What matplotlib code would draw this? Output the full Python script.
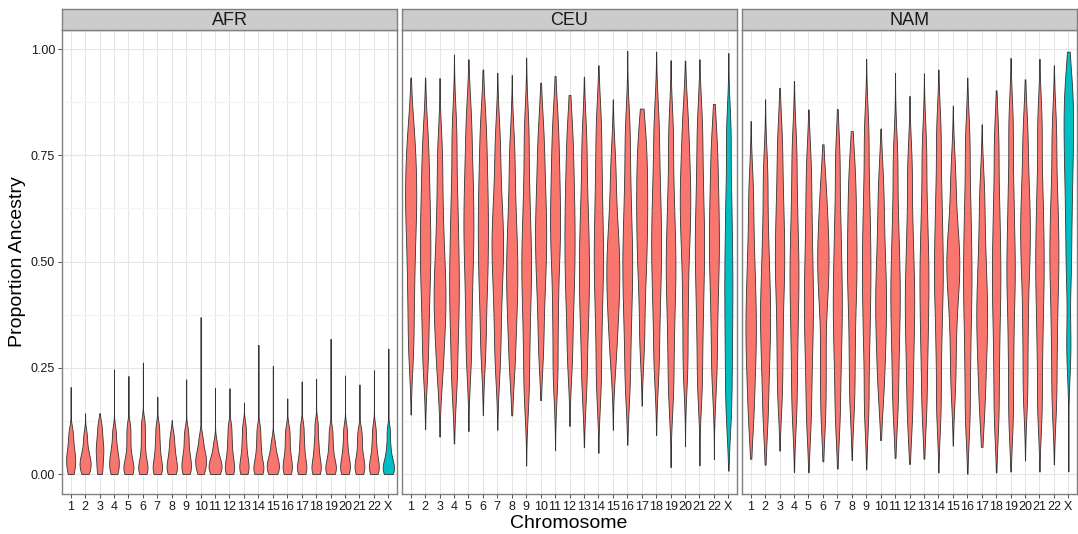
import numpy as np
import matplotlib.pyplot as plt

plt.rcParams['font.family'] = ['Liberation Sans', 'DejaVu Sans']

chroms = [str(i) for i in range(1, 23)] + ['X']
pops = ['AFR', 'CEU', 'NAM']

# range of each violin (min, max) and a few representative values for its body
afr_lo = [0.0] * 23
afr_hi = [0.205, 0.143, 0.143, 0.246, 0.231, 0.262, 0.182, 0.127, 0.223, 0.369, 0.203, 0.202,
          0.168, 0.304, 0.254, 0.178, 0.218, 0.224, 0.318, 0.232, 0.211, 0.244, 0.295]
afr_body = [
    [0.0, 0.015, 0.03, 0.04, 0.055, 0.075, 0.1],
    [0.0, 0.012, 0.022, 0.03, 0.042, 0.06, 0.09],
    [0.0, 0.02, 0.04, 0.055, 0.07, 0.09, 0.115],
    [0.0, 0.012, 0.025, 0.035, 0.05, 0.07, 0.1],
    [0.0, 0.008, 0.018, 0.03, 0.05, 0.08, 0.11],
    [0.0, 0.01, 0.02, 0.035, 0.06, 0.09, 0.12],
    [0.0, 0.01, 0.02, 0.035, 0.055, 0.08, 0.11],
    [0.0, 0.008, 0.018, 0.03, 0.045, 0.065, 0.09],
    [0.0, 0.01, 0.022, 0.035, 0.05, 0.075, 0.1],
    [0.0, 0.015, 0.025, 0.035, 0.045, 0.06, 0.085],
    [0.0, 0.008, 0.015, 0.022, 0.032, 0.045, 0.07],
    [0.0, 0.01, 0.02, 0.035, 0.055, 0.08, 0.11],
    [0.0, 0.01, 0.022, 0.035, 0.055, 0.08, 0.11],
    [0.0, 0.008, 0.018, 0.03, 0.05, 0.075, 0.105],
    [0.0, 0.008, 0.016, 0.025, 0.035, 0.05, 0.075],
    [0.0, 0.01, 0.022, 0.035, 0.055, 0.08, 0.105],
    [0.0, 0.01, 0.02, 0.035, 0.055, 0.08, 0.11],
    [0.0, 0.01, 0.02, 0.035, 0.055, 0.08, 0.115],
    [0.0, 0.008, 0.016, 0.028, 0.045, 0.07, 0.1],
    [0.0, 0.01, 0.02, 0.033, 0.05, 0.075, 0.105],
    [0.0, 0.01, 0.02, 0.033, 0.05, 0.075, 0.1],
    [0.0, 0.01, 0.02, 0.033, 0.05, 0.075, 0.105],
    [0.0, 0.008, 0.015, 0.025, 0.04, 0.065, 0.1],
]

ceu_lo = [0.140, 0.106, 0.088, 0.072, 0.101, 0.139, 0.104, 0.138, 0.020, 0.174, 0.056, 0.113,
          0.063, 0.050, 0.104, 0.069, 0.161, 0.092, 0.016, 0.065, 0.020, 0.035, 0.008]
ceu_hi = [0.933, 0.933, 0.932, 0.987, 0.976, 0.952, 0.944, 0.939, 0.980, 0.921, 0.937, 0.892,
          0.935, 0.962, 0.882, 0.996, 0.860, 0.994, 0.974, 0.973, 0.976, 0.871, 0.991]
ceu_body = [
    [0.30, 0.42, 0.52, 0.60, 0.66, 0.72, 0.80],
    [0.27, 0.38, 0.47, 0.53, 0.60, 0.68, 0.78],
    [0.25, 0.34, 0.40, 0.45, 0.52, 0.62, 0.75],
    [0.22, 0.33, 0.41, 0.48, 0.56, 0.66, 0.80],
    [0.28, 0.40, 0.50, 0.57, 0.64, 0.72, 0.83],
    [0.30, 0.42, 0.50, 0.57, 0.64, 0.72, 0.82],
    [0.27, 0.38, 0.47, 0.53, 0.58, 0.66, 0.78],
    [0.26, 0.36, 0.43, 0.49, 0.55, 0.64, 0.76],
    [0.20, 0.32, 0.42, 0.49, 0.56, 0.66, 0.80],
    [0.30, 0.42, 0.50, 0.56, 0.62, 0.70, 0.80],
    [0.24, 0.38, 0.50, 0.57, 0.64, 0.72, 0.82],
    [0.28, 0.40, 0.48, 0.55, 0.62, 0.70, 0.80],
    [0.22, 0.34, 0.42, 0.49, 0.56, 0.65, 0.78],
    [0.22, 0.35, 0.45, 0.52, 0.60, 0.70, 0.82],
    [0.28, 0.37, 0.43, 0.48, 0.53, 0.60, 0.72],
    [0.22, 0.34, 0.43, 0.50, 0.57, 0.67, 0.80],
    [0.32, 0.45, 0.53, 0.60, 0.66, 0.73, 0.80],
    [0.26, 0.38, 0.47, 0.54, 0.61, 0.70, 0.82],
    [0.20, 0.32, 0.42, 0.49, 0.56, 0.66, 0.80],
    [0.26, 0.40, 0.52, 0.60, 0.66, 0.73, 0.83],
    [0.22, 0.35, 0.45, 0.53, 0.60, 0.70, 0.82],
    [0.24, 0.36, 0.46, 0.53, 0.60, 0.68, 0.78],
    [0.15, 0.26, 0.36, 0.45, 0.54, 0.65, 0.80],
]

nam_lo = [0.036, 0.022, 0.055, 0.005, 0.004, 0.030, 0.013, 0.033, 0.011, 0.080, 0.038, 0.024,
          0.036, 0.004, 0.067, 0.001, 0.064, 0.004, 0.006, 0.032, 0.006, 0.023, 0.006]
nam_hi = [0.831, 0.882, 0.909, 0.925, 0.858, 0.776, 0.859, 0.807, 0.977, 0.813, 0.944, 0.890,
          0.943, 0.952, 0.867, 0.933, 0.823, 0.903, 0.979, 0.929, 0.977, 0.962, 0.994]
nam_body = [
    [0.14, 0.24, 0.31, 0.37, 0.44, 0.53, 0.66],
    [0.14, 0.25, 0.33, 0.39, 0.46, 0.56, 0.70],
    [0.20, 0.32, 0.43, 0.50, 0.57, 0.66, 0.78],
    [0.16, 0.28, 0.38, 0.46, 0.53, 0.63, 0.76],
    [0.14, 0.26, 0.35, 0.42, 0.50, 0.60, 0.72],
    [0.15, 0.27, 0.40, 0.47, 0.52, 0.58, 0.67],
    [0.14, 0.26, 0.35, 0.42, 0.50, 0.60, 0.74],
    [0.18, 0.30, 0.41, 0.48, 0.55, 0.63, 0.72],
    [0.16, 0.30, 0.40, 0.48, 0.56, 0.66, 0.80],
    [0.20, 0.29, 0.36, 0.42, 0.48, 0.57, 0.68],
    [0.16, 0.27, 0.36, 0.43, 0.50, 0.60, 0.74],
    [0.14, 0.25, 0.34, 0.41, 0.48, 0.58, 0.72],
    [0.16, 0.28, 0.37, 0.45, 0.52, 0.62, 0.76],
    [0.16, 0.30, 0.41, 0.48, 0.56, 0.66, 0.80],
    [0.22, 0.34, 0.44, 0.48, 0.52, 0.58, 0.70],
    [0.14, 0.27, 0.38, 0.46, 0.54, 0.64, 0.78],
    [0.16, 0.26, 0.33, 0.39, 0.45, 0.54, 0.66],
    [0.14, 0.27, 0.38, 0.46, 0.54, 0.64, 0.78],
    [0.14, 0.28, 0.40, 0.48, 0.56, 0.67, 0.82],
    [0.20, 0.34, 0.46, 0.54, 0.60, 0.68, 0.80],
    [0.16, 0.30, 0.41, 0.49, 0.57, 0.67, 0.82],
    [0.18, 0.31, 0.42, 0.50, 0.57, 0.66, 0.80],
    [0.30, 0.48, 0.60, 0.70, 0.78, 0.85, 0.92],
]

panels = {
    'AFR': (afr_lo, afr_hi, afr_body, 0.016),
    'CEU': (ceu_lo, ceu_hi, ceu_body, 0.07),
    'NAM': (nam_lo, nam_hi, nam_body, 0.07),
}

RED = '#F8766D'
TEAL = '#00BFC4'


def kde(pts, grid, bw):
    z = (grid[:, None] - np.array(pts)[None, :]) / bw
    return np.exp(-0.5 * z ** 2).sum(axis=1) / (len(pts) * bw * np.sqrt(2 * np.pi))


W, H = 1078, 534
fig = plt.figure(figsize=(W / 100, H / 100), dpi=100)

lefts = [62, 402, 742]
pw = 335
top, bottom = 30, 494
x = np.arange(1, 24)

for k, pop in enumerate(pops):
    lo, hi, body, bw = panels[pop]
    ax = fig.add_axes([lefts[k] / W, (H - bottom) / H, pw / W, (bottom - top) / H])
    ax.set_facecolor('white')

    # densities of every violin, scaled by the panel's largest density (ggplot scale = "area")
    grids, dens = [], []
    for i in range(23):
        g = np.linspace(lo[i], hi[i], 300)
        grids.append(g)
        dens.append(kde(body[i], g, bw))
    dmax = max(d.max() for d in dens)

    for i in range(23):
        half = 0.45 * dens[i] / dmax
        col = TEAL if chroms[i] == 'X' else RED
        ax.fill_betweenx(grids[i], x[i] - half, x[i] + half, facecolor=col,
                         edgecolor='#333333', linewidth=0.6, zorder=3)

    ax.set_xlim(0.4, 23.6)
    ax.set_ylim(-0.047, 1.045)
    ax.set_xticks(x)
    ax.set_xticklabels(chroms)
    ax.set_yticks([0, 0.25, 0.5, 0.75, 1.0])
    ax.set_yticks([0.125, 0.375, 0.625, 0.875], minor=True)
    ax.grid(True, which='major', color='#E5E5E5', linewidth=0.8, zorder=0)
    ax.grid(True, which='minor', axis='y', color='#F3F3F3', linewidth=0.9, zorder=0)
    ax.set_axisbelow(True)
    ax.tick_params(axis='both', which='major', length=3, width=0.6, color='#333333',
                   labelsize=9, labelcolor='#1A1A1A', pad=2)
    ax.tick_params(axis='y', which='minor', length=0)
    if k == 0:
        ax.set_yticklabels(['0.00', '0.25', '0.50', '0.75', '1.00'])
    else:
        ax.tick_params(axis='y', which='both', left=False, labelleft=False)
    for s in ax.spines.values():
        s.set_color('#808080')
        s.set_linewidth(1.0)

    # facet strip
    sax = fig.add_axes([lefts[k] / W, (H - top) / H, pw / W, 21 / H])
    sax.set_facecolor('#CCCCCC')
    sax.set_xticks([])
    sax.set_yticks([])
    for s in sax.spines.values():
        s.set_color('#808080')
        s.set_linewidth(1.0)
    sax.text(0.5, 0.47, pop, ha='center', va='center', fontsize=13, color='#1A1A1A',
             transform=sax.transAxes)

fig.text(569 / W, 1 - 523 / H, 'Chromosome', ha='center', va='center', fontsize=14)
fig.text(18 / W, 1 - 262 / H, 'Proportion Ancestry', ha='center', va='center',
         rotation=90, fontsize=14)

fig.savefig('out.png', dpi=100)
